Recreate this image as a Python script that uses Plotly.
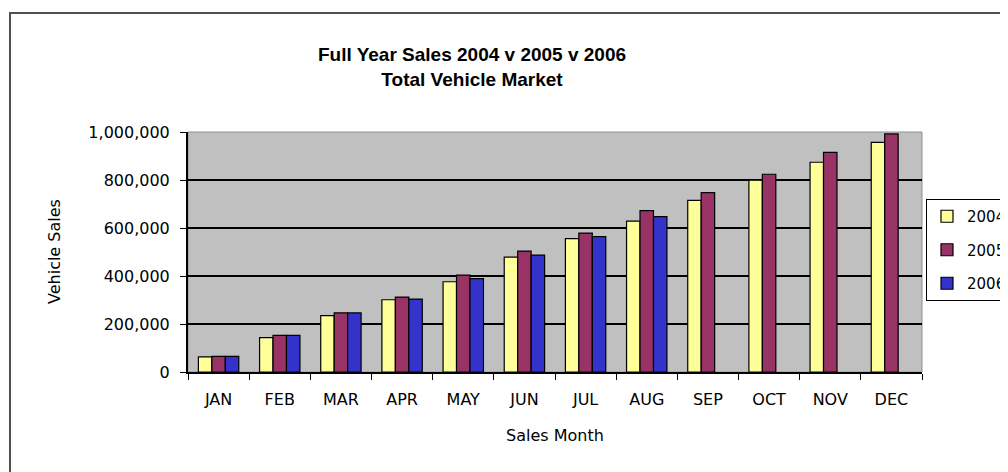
import plotly.graph_objects as go

months = ["JAN", "FEB", "MAR", "APR", "MAY", "JUN", "JUL", "AUG", "SEP", "OCT", "NOV", "DEC"]
sales_2004 = [63000, 143000, 235000, 301000, 376000, 479000, 556000, 629000, 715000, 799000, 874000, 957000]
sales_2005 = [65000, 153000, 246000, 312000, 404000, 504000, 579000, 672000, 747000, 824000, 915000, 992000]
sales_2006 = [65000, 153000, 246000, 304000, 389000, 487000, 564000, 647000, None, None, None, None]
y_ticks = [0, 200000, 400000, 600000, 800000, 1000000]
y_ticktext = ["0", "200,000", "400,000", "600,000", "800,000", "1,000,000"]

OFF = 8  # page body margin
W, H = 1008 - OFF, 472 - OFF
# plot area in viewport pixels
VL, VR, VT, VB = 188, 922, 132, 372
L, R, T, B = VL - OFF, VR - OFF, VT - OFF, VB - OFF

fig = go.Figure()
for name, vals, col in [("2004", sales_2004, "#FFFF99"),
                        ("2005", sales_2005, "#993366"),
                        ("2006", sales_2006, "#3333CC")]:
    fig.add_trace(go.Bar(x=months, y=vals, name=name, legendgroup=name,
                         marker=dict(color=col, line=dict(color="black", width=1.2))))

font_main = "Liberation Sans, Arial, sans-serif"
font_tick = "DejaVu Sans, Verdana, sans-serif"

def px_x(vx):
    return (vx - VL) / (VR - VL)

def px_y(vy):
    return (VB - vy) / (VB - VT)

fig.update_layout(
    width=W, height=H,
    margin=dict(l=L, r=W - R, t=T, b=H - B, autoexpand=False),
    paper_bgcolor="white",
    plot_bgcolor="#C0C0C0",
    barmode="group",
    bargap=0.34,
    bargroupgap=0,
    font=dict(family=font_main, color="black", size=13),
    title=dict(text="<b>Full Year Sales 2004 v 2005 v 2006<br>Total Vehicle Market</b>",
               xref="container", x=(472 - OFF) / W, xanchor="center",
               yref="container", y=1 - 53 / H, yanchor="middle",
               font=dict(family=font_main, size=19, color="black")),
    legend=dict(x=px_x(926), xanchor="left", y=px_y(199), yanchor="top",
                bgcolor="white", bordercolor="black", borderwidth=1,
                font=dict(family=font_tick, size=15), tracegroupgap=11,
                itemwidth=30),
    showlegend=True,
)

fig.update_xaxes(
    type="category", tickson="boundaries", ticks="outside", ticklen=6, tickcolor="black",
    showline=True, linecolor="black", linewidth=2, showgrid=False,
    tickfont=dict(family=font_tick, size=16), ticklabelstandoff=12,
    title=dict(text="Sales Month", font=dict(family=font_tick, size=16), standoff=22),
)
fig.update_yaxes(
    range=[0, 1000000], tickvals=y_ticks, ticktext=y_ticktext,
    ticks="outside", ticklen=6, tickcolor="black", ticklabelstandoff=7,
    showline=True, linecolor="black", linewidth=2,
    showgrid=True, gridcolor="black", gridwidth=1.5, zeroline=False,
    tickfont=dict(family=font_tick, size=16),
)

# plot area border (grey) and chart border
fig.add_shape(type="rect", xref="paper", yref="paper", x0=0, x1=1, y0=0, y1=1,
              line=dict(color="#909090", width=1), layer="below")
fig.add_shape(type="rect", xref="paper", yref="paper",
              x0=px_x(10), x1=px_x(1014),
              y0=px_y(480), y1=px_y(13),
              line=dict(color="#505050", width=2))

fig.add_annotation(text="Vehicle Sales", xref="paper", yref="paper",
                   x=px_x(54), y=px_y(252), textangle=-90,
                   showarrow=False, xanchor="center", yanchor="middle",
                   font=dict(family=font_tick, size=16))

fig.write_html("out.html")
